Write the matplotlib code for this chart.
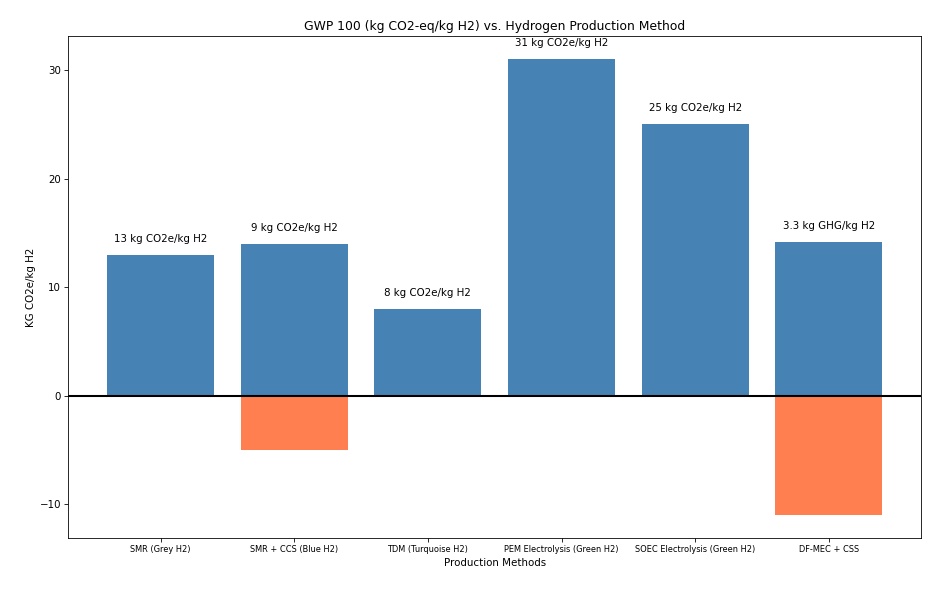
import numpy as np
import matplotlib
matplotlib.use('Agg')
import matplotlib.pyplot as plt

methods = ['SMR (Grey H2)', 'SMR + CCS (Blue H2)', 'TDM (Turquoise H2)',
           'PEM Electrolysis (Green H2)', 'SOEC Electrolysis (Green H2)', 'DF-MEC + CSS']
emissions = [13, 14, 8, 31, 25, 14.2]
offsets = [0, -5, 0, 0, 0, -11]
labels = ['13 kg CO2e/kg H2', '9 kg CO2e/kg H2', '8 kg CO2e/kg H2',
          '31 kg CO2e/kg H2', '25 kg CO2e/kg H2', '3.3 kg GHG/kg H2']

DPI = 74
fig, ax = plt.subplots(figsize=(936 / DPI, 594 / DPI), dpi=DPI)
x = np.arange(len(methods))
bars = ax.bar(x, emissions, color='steelblue')
ax.bar(x, offsets, color='coral')
ax.axhline(0, color='black', linewidth=2)

for bar, lab in zip(bars, labels):
    ax.text(bar.get_x() + bar.get_width() / 2, bar.get_height() + 1, lab,
            ha='center', va='bottom')

ax.set_xticks(x)
ax.set_xticklabels(methods, fontsize=8)
ax.set_xlabel('Production Methods')
ax.set_ylabel('KG CO2e/kg H2')
ax.set_title('GWP 100 (kg CO2-eq/kg H2) vs. Hydrogen Production Method')

plt.subplots_adjust(left=0.073, right=0.984, top=0.939, bottom=0.094)
plt.savefig('out.png', dpi=DPI)
